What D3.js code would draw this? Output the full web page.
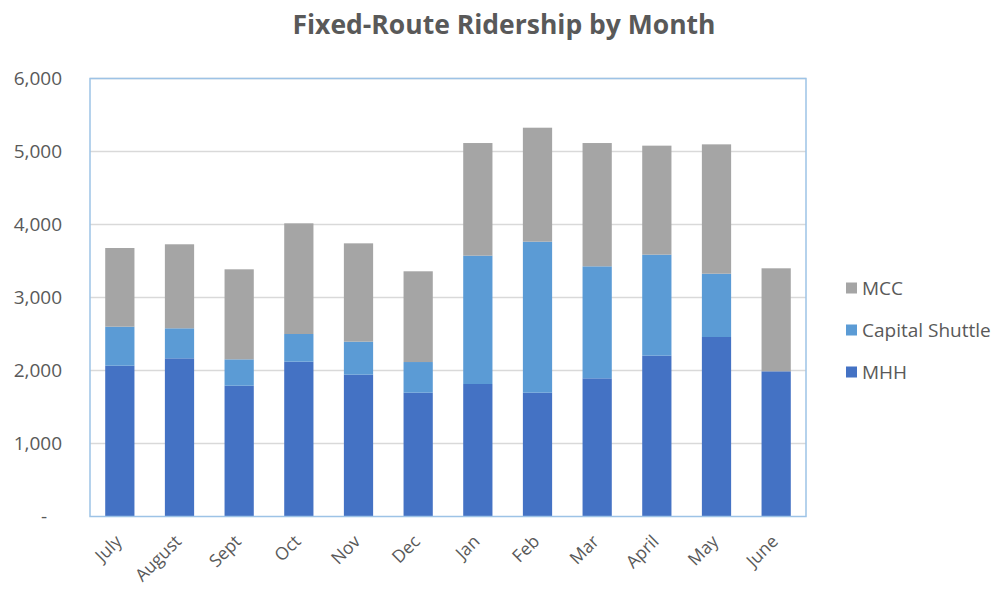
<!DOCTYPE html>
<html>
<head>
<meta charset="utf-8">
<script src="https://cdn.jsdelivr.net/npm/d3@7"></script>
<style>
  body { margin: 0; background: #fff; }
  svg { font-family: "Open Sans", "Noto Sans", sans-serif; }
</style>
</head>
<body>
<svg id="chart" width="995" height="589"></svg>
<script>
// data
const months = ['July', 'August', 'Sept', 'Oct', 'Nov', 'Dec', 'Jan', 'Feb', 'Mar', 'April', 'May', 'June'];
const mhh = [2066, 2167, 1792, 2121, 1943, 1696, 1815, 1696, 1893, 2203, 2459, 1989];
const capitalShuttle = [534, 411, 361, 379, 452, 420, 1758, 2069, 1534, 1384, 867, 0];
const mcc = [1078, 1151, 1233, 1516, 1347, 1243, 1543, 1561, 1689, 1493, 1772, 1411];
const yTicks = [0, 1000, 2000, 3000, 4000, 5000, 6000];

const seriesNames = ['MHH', 'Capital Shuttle', 'MCC'];
const colors = { 'MHH': '#4472c4', 'Capital Shuttle': '#5b9bd5', 'MCC': '#a5a5a5' };

const table = months.map((m, i) => ({
  month: m, 'MHH': mhh[i], 'Capital Shuttle': capitalShuttle[i], 'MCC': mcc[i]
}));
const stacked = d3.stack().keys(seriesNames)(table);

const svg = d3.select('#chart');
const margin = { top: 78.5, left: 90, right: 806, bottom: 516.5 };

const x = d3.scaleBand().domain(months).range([margin.left, margin.right]).paddingInner(0.51).paddingOuter(0.255);
const y = d3.scaleLinear().domain([0, 6000]).range([margin.bottom, margin.top]);

// title
svg.append('text')
  .attr('x', 504).attr('y', 34)
  .attr('text-anchor', 'middle')
  .attr('font-size', 26.5).attr('font-weight', 'bold')
  .attr('fill', '#595959')
  .text('Fixed-Route Ridership by Month');

// gridlines
svg.append('g')
  .selectAll('line')
  .data(yTicks.filter(d => d > 0))
  .join('line')
  .attr('x1', margin.left).attr('x2', margin.right)
  .attr('y1', d => y(d)).attr('y2', d => y(d))
  .attr('stroke', '#d9d9d9').attr('stroke-width', 1.5);

// bars
svg.append('g')
  .selectAll('g')
  .data(stacked)
  .join('g')
  .attr('fill', d => colors[d.key])
  .selectAll('rect')
  .data(d => d)
  .join('rect')
  .attr('x', d => x(d.data.month))
  .attr('width', x.bandwidth())
  .attr('y', d => y(d[1]))
  .attr('height', d => y(d[0]) - y(d[1]));

// plot border
svg.append('rect')
  .attr('x', margin.left).attr('y', margin.top)
  .attr('width', margin.right - margin.left)
  .attr('height', margin.bottom - margin.top)
  .attr('fill', 'none').attr('stroke', '#9dc3e6').attr('stroke-width', 1.5);

// y axis
const yAxis = d3.axisLeft(y)
  .tickValues(yTicks)
  .tickSize(0)
  .tickPadding(0)
  .tickFormat(d => d === 0 ? '-' : d3.format(',')(d));
const yg = svg.append('g').attr('transform', 'translate(62,0)').call(yAxis);
yg.select('.domain').remove();
yg.selectAll('text')
  .attr('font-size', 19).attr('fill', '#595959')
  .attr('font-family', '"Open Sans", "Noto Sans", sans-serif');
yg.selectAll('.tick').filter(d => d === 0).select('text').attr('x', -15);

// x axis
const xAxis = d3.axisBottom(x).tickSize(0).tickPadding(0);
const xg = svg.append('g').attr('transform', `translate(0,${margin.bottom})`).call(xAxis);
xg.select('.domain').remove();
xg.selectAll('text')
  .attr('font-size', 17.5).attr('fill', '#595959')
  .attr('font-family', '"Open Sans", "Noto Sans", sans-serif')
  .attr('text-anchor', 'end')
  .attr('dy', 0)
  .attr('transform', 'translate(3,26) rotate(-45)');

// legend
const legend = svg.append('g')
  .selectAll('g')
  .data(seriesNames.slice().reverse())
  .join('g')
  .attr('transform', (d, i) => `translate(846,${288 + i * 42})`);
legend.append('rect')
  .attr('x', 0).attr('y', -5.5)
  .attr('width', 11).attr('height', 11)
  .attr('fill', d => colors[d]);
legend.append('text')
  .attr('x', 16).attr('y', 0).attr('dy', '0.35em')
  .attr('font-size', 19).attr('fill', '#595959')
  .text(d => d);
</script>
</body>
</html>
